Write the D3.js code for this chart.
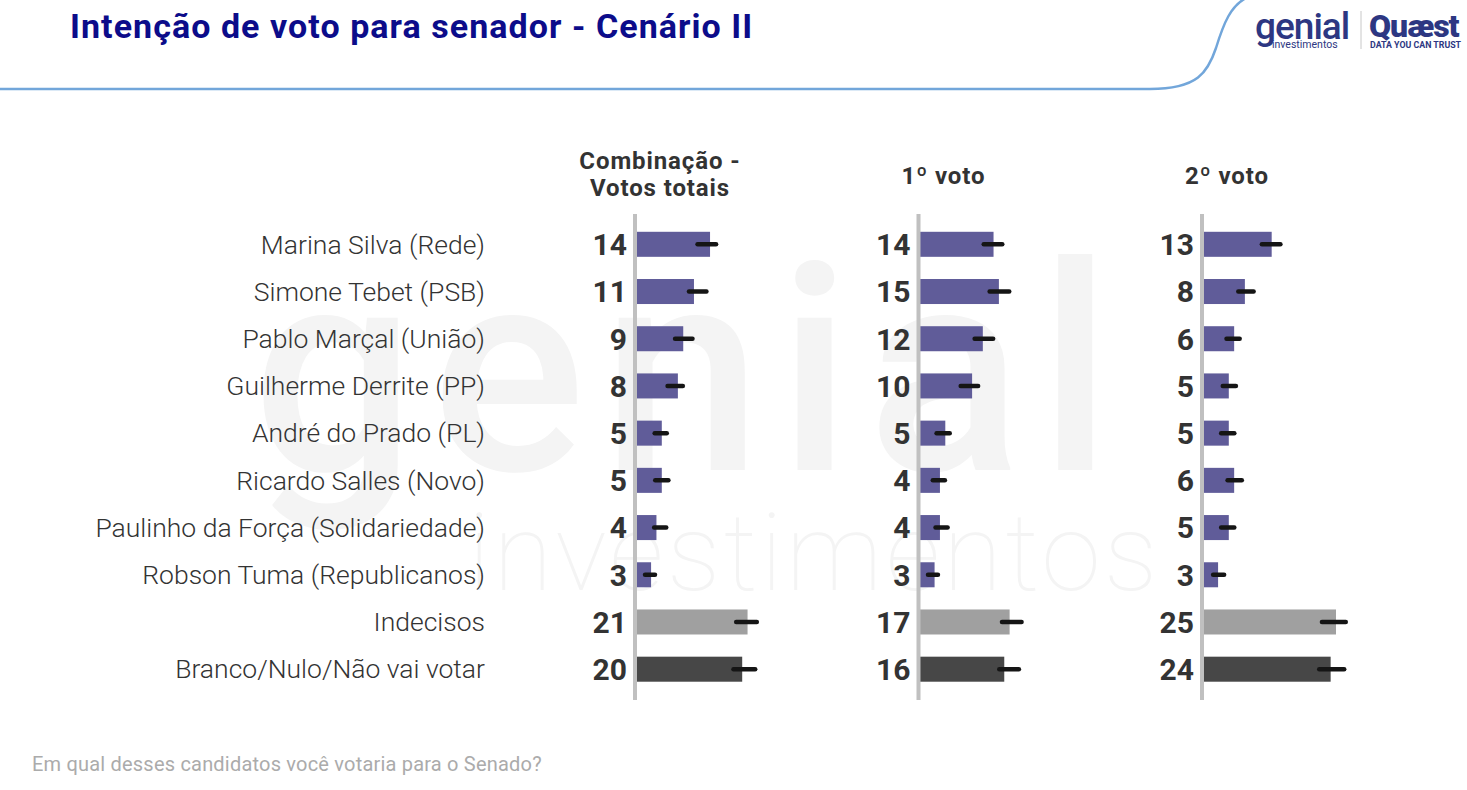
<!DOCTYPE html>
<html>
<head>
<meta charset="utf-8">
<script src="https://cdn.jsdelivr.net/npm/d3@7"></script>
<style>
  html, body { margin: 0; padding: 0; background: #fff; }
  svg { display: block; font-family: Roboto, "Noto Sans", sans-serif; }
</style>
</head>
<body>
<svg id="chart" width="1467" height="790"></svg>
<script>
// Data
var candidates = [
  "Marina Silva (Rede)",
  "Simone Tebet (PSB)",
  "Pablo Marçal (União)",
  "Guilherme Derrite (PP)",
  "André do Prado (PL)",
  "Ricardo Salles (Novo)",
  "Paulinho da Força (Solidariedade)",
  "Robson Tuma (Republicanos)",
  "Indecisos",
  "Branco/Nulo/Não vai votar"
];
var panelTitles = [["Combinação -", "Votos totais"], ["1º voto"], ["2º voto"]];

var combinedValues = [14, 11, 9, 8, 5, 5, 4, 3, 21, 20];
var firstValues = [14, 15, 12, 10, 5, 4, 4, 3, 17, 16];
var secondValues = [13, 8, 6, 5, 5, 6, 5, 3, 25, 24];

// error bars: centre and half width (percentage points)
var combinedErrMid = [13.4, 11.7, 9.1, 7.5, 4.8, 5.0, 4.7, 2.8, 20.8, 20.4];
var combinedErrHalf = [2.1, 2.0, 2.0, 1.8, 1.5, 1.6, 1.5, 1.3, 2.3, 2.4];
var firstErrMid = [13.9, 15.1, 12.2, 9.5, 4.6, 3.8, 4.3, 2.7, 17.4, 16.9];
var firstErrHalf = [2.1, 2.2, 2.1, 2.0, 1.6, 1.5, 1.5, 1.3, 2.2, 2.2];
var secondErrMid = [12.9, 8.2, 5.8, 5.1, 4.8, 6.1, 4.8, 3.1, 24.6, 24.2];
var secondErrHalf = [2.1, 1.8, 1.6, 1.6, 1.6, 1.7, 1.6, 1.4, 2.6, 2.7];

var panels = [
  { values: combinedValues, mid: combinedErrMid, half: combinedErrHalf },
  { values: firstValues, mid: firstErrMid, half: firstErrHalf },
  { values: secondValues, mid: secondErrMid, half: secondErrHalf }
];

var barColor = function(i) {
  if (i === 8) return "#a0a0a0";
  if (i === 9) return "#474747";
  return "#605c99";
};

var svg = d3.select("#chart");

// Watermark (behind everything)
var wm = svg.append("g").attr("fill", "#f4f4f4");
wm.append("text").attr("x", 252).attr("y", 470)
  .style("font-size", "288px").style("font-weight", 500).style("letter-spacing", "16px")
  .text("genial");
wm.append("text").attr("x", 468).attr("y", 590)
  .style("font-size", "108px").style("font-weight", 100).style("letter-spacing", "3px")
  .text("investimentos");

// Header line + title
svg.append("path")
  .attr("d", "M0,89 L1150,89 C1198,89 1208,72 1216,48 C1224,22 1231,6 1246,-2")
  .attr("fill", "none")
  .attr("stroke", "#72a6da")
  .attr("stroke-width", 2.5);

svg.append("text")
  .attr("x", 70).attr("y", 38)
  .attr("fill", "#0c0c8a")
  .style("font-size", "34px").style("font-weight", 700).style("letter-spacing", "1.05px")
  .text("Intenção de voto para senador - Cenário II");

// Logos
var logo = svg.append("g").attr("fill", "#2d3782");
logo.append("text").attr("x", 1255).attr("y", 39)
  .style("font-size", "37px").style("font-weight", 500).style("letter-spacing", "-1px")
  .text("genial");
logo.append("text").attr("x", 1272).attr("y", 48)
  .style("font-size", "10.5px").style("font-weight", 400)
  .text("investimentos");
logo.append("line").attr("x1", 1361).attr("x2", 1361).attr("y1", 11).attr("y2", 49)
  .attr("stroke", "#c8c8c8").attr("stroke-width", 1);
logo.append("text").attr("x", 1369).attr("y", 37)
  .style("font-size", "32px").style("font-weight", 900).style("letter-spacing", "-1px")
  .text("Quæst");
logo.append("text").attr("x", 1370).attr("y", 47.5)
  .style("font-size", "8.8px").style("font-weight", 700)
  .text("DATA YOU CAN TRUST");

// Scales
var y = d3.scaleBand()
  .domain(candidates)
  .range([220.7, 692.8])
  .paddingInner(0.47)
  .paddingOuter(0.235);

var x = d3.scaleLinear().domain([0, 25]).range([0, 134]);

var panelX = d3.scalePoint().domain([0, 1, 2]).range([635, 1202]);

// Category labels
svg.append("g").selectAll("text")
  .data(candidates)
  .enter().append("text")
  .attr("x", 485)
  .attr("y", function(d) { return y(d) + y.bandwidth() / 2; })
  .attr("dy", "0.35em")
  .attr("text-anchor", "end")
  .attr("fill", "#333")
  .style("font-size", "26.5px").style("font-weight", 300)
  .text(function(d) { return d; });

// Panels
panels.forEach(function(p, pi) {
  var g = svg.append("g").attr("transform", "translate(" + panelX(pi) + ",0)");

  // header
  var lines = panelTitles[pi];
  var hy = lines.length === 1 ? 184 : 169;
  g.append("text")
    .attr("x", 25).attr("y", hy)
    .attr("text-anchor", "middle")
    .attr("fill", "#333")
    .style("font-size", "24px").style("font-weight", 700).style("letter-spacing", "0.9px")
    .selectAll("tspan")
    .data(lines)
    .enter().append("tspan")
    .attr("x", 25)
    .attr("dy", function(d, i) { return i === 0 ? 0 : 27; })
    .text(function(d) { return d; });

  // bars
  g.selectAll("rect")
    .data(p.values)
    .enter().append("rect")
    .attr("x", x(0))
    .attr("y", function(d, i) { return y(candidates[i]); })
    .attr("width", function(d) { return x(d); })
    .attr("height", y.bandwidth())
    .attr("fill", function(d, i) { return barColor(i); });

  // axis line
  g.append("line")
    .attr("x1", x(0)).attr("x2", x(0))
    .attr("y1", 214).attr("y2", 700)
    .attr("stroke", "#c0c0c0")
    .attr("stroke-width", 4);

  // error bars
  g.selectAll("line.err")
    .data(p.mid)
    .enter().append("line")
    .attr("class", "err")
    .attr("x1", function(d, i) { return x(d - p.half[i]) + 2; })
    .attr("x2", function(d, i) { return x(d + p.half[i]) - 2; })
    .attr("y1", function(d, i) { return y(candidates[i]) + y.bandwidth() / 2; })
    .attr("y2", function(d, i) { return y(candidates[i]) + y.bandwidth() / 2; })
    .attr("stroke", "#151515")
    .attr("stroke-width", 4.5)
    .attr("stroke-linecap", "round");

  // value labels
  g.selectAll("text.val")
    .data(p.values)
    .enter().append("text")
    .attr("class", "val")
    .attr("x", x(0) - 8)
    .attr("y", function(d, i) { return y(candidates[i]) + y.bandwidth() / 2; })
    .attr("dy", "0.36em")
    .attr("text-anchor", "end")
    .attr("fill", "#333")
    .style("font-size", "30px").style("font-weight", 700)
    .text(function(d) { return d; });
});

// Footnote
svg.append("text")
  .attr("x", 32).attr("y", 771)
  .attr("fill", "#ababab")
  .style("font-size", "20px").style("letter-spacing", "0.2px")
  .text("Em qual desses candidatos você votaria para o Senado?");
</script>
</body>
</html>
